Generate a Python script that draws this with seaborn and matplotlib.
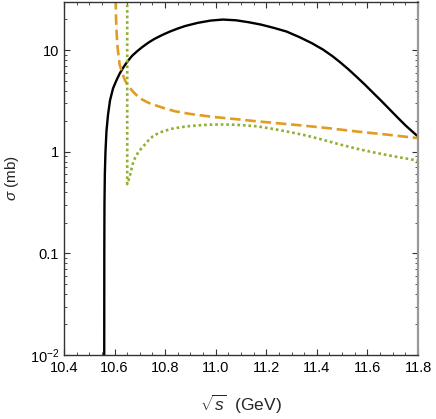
import numpy as np
import pandas as pd
import matplotlib
matplotlib.use("Agg")
import matplotlib.pyplot as plt
import matplotlib.ticker as mticker
import seaborn as sns

# --- data ---
x_black = [10.5590, 10.5591, 10.5594, 10.5600, 10.5615, 10.564, 10.568, 10.574, 10.582, 10.594,
           10.607, 10.620, 10.635, 10.650, 10.670, 10.690, 10.710, 10.735, 10.758, 10.790,
           10.819, 10.850, 10.88, 10.93, 10.98, 11.028, 11.08, 11.13, 11.18, 11.23,
           11.28, 11.333, 11.38, 11.424, 11.46, 11.49, 11.525, 11.558, 11.59, 11.62,
           11.655, 11.689, 11.72, 11.75, 11.775, 11.80]
y_black = [0.0005, 0.01, 0.1, 0.3, 0.6, 1.0, 1.6, 2.3, 3.2, 4.2,
           5.01, 5.86, 6.76, 7.67, 8.81, 9.77, 10.72, 11.89, 12.88, 14.13,
           15.21, 16.29, 17.26, 18.54, 19.5, 19.95, 19.63, 18.79, 17.78, 16.52,
           15.21, 13.34, 11.69, 10.12, 8.77, 7.66, 6.46, 5.43, 4.57, 3.85,
           3.16, 2.59, 2.16, 1.82, 1.60, 1.41]

x_orange = [10.6040, 10.6060, 10.6090, 10.6130, 10.620, 10.628, 10.640, 10.650, 10.660, 10.675,
            10.692, 10.71, 10.735, 10.758, 10.80, 10.839, 10.90, 10.989, 11.08, 11.163,
            11.25, 11.333, 11.45, 11.558, 11.68, 11.80]
y_orange = [35, 20, 13.5, 10.0, 7.2, 6.2, 5.1, 4.6, 4.25, 3.85,
            3.5, 3.25, 3.02, 2.88, 2.66, 2.50, 2.35, 2.20, 2.09, 1.99,
            1.90, 1.82, 1.70, 1.58, 1.47, 1.36]

x_green = [10.650, 10.650, 10.655, 10.660, 10.666, 10.673, 10.682, 10.692, 10.705, 10.719,
           10.735, 10.752, 10.775, 10.80, 10.826, 10.86, 10.90, 10.95, 10.989, 11.04,
           11.08, 11.12, 11.163, 11.23, 11.293, 11.36, 11.424, 11.49, 11.558, 11.62,
           11.689, 11.75, 11.80]
y_green = [60, 0.48, 0.52, 0.57, 0.66, 0.775, 0.88, 0.97, 1.07, 1.17,
           1.30, 1.42, 1.53, 1.61, 1.68, 1.74, 1.79, 1.83, 1.85, 1.85,
           1.84, 1.81, 1.78, 1.67, 1.56, 1.44, 1.31, 1.18, 1.07, 0.99,
           0.915, 0.86, 0.815]

x_ticks = [10.4, 10.6, 10.8, 11.0, 11.2, 11.4, 11.6, 11.8]
x_ticklabels = ["10.4", "10.6", "10.8", "11.0", "11.2", "11.4", "11.6", "11.8"]
y_ticks = [0.01, 0.1, 1, 10]
y_ticklabels = [r"$10^{-2}$", "0.1", "1", "10"]

sns.set_style("ticks")
plt.rcParams["font.family"] = ["Liberation Sans", "DejaVu Sans"]
plt.rcParams["mathtext.fontset"] = "custom"
plt.rcParams["mathtext.rm"] = "Liberation Sans"
plt.rcParams["mathtext.it"] = "Liberation Sans:italic"
plt.rcParams["mathtext.bf"] = "Liberation Sans:bold"

fig = plt.figure(figsize=(4.36, 4.19), dpi=100)
ax = fig.add_axes([64/436, 64/419, (418-64)/436, (355-2)/419])

df_b = pd.DataFrame({"x": x_black, "y": y_black})
df_o = pd.DataFrame({"x": x_orange, "y": y_orange})
df_g = pd.DataFrame({"x": x_green, "y": y_green})

sns.lineplot(data=df_b, x="x", y="y", ax=ax, sort=False, color="black", lw=1.7, estimator=None)
sns.lineplot(data=df_o, x="x", y="y", ax=ax, sort=False, color="#E19C24", lw=1.9,
             estimator=None, dashes=False, linestyle=(0, (4, 1.8)))
sns.lineplot(data=df_g, x="x", y="y", ax=ax, sort=False, color="#8FB032", lw=1.9,
             estimator=None, dashes=False, linestyle=(0, (1, 1.1)))

ax.set_yscale("log")
ax.set_xlim(10.4, 11.8)
ax.set_ylim(0.01, 29.7)

ax.set_xticks(x_ticks)
ax.set_xticklabels(x_ticklabels)
ax.xaxis.set_minor_locator(mticker.MultipleLocator(0.05))
ax.set_yticks(y_ticks)
ax.set_yticklabels(y_ticklabels)
ax.yaxis.set_minor_locator(mticker.LogLocator(base=10, subs=np.arange(2, 10)))
ax.yaxis.set_minor_formatter(mticker.NullFormatter())

ax.tick_params(which="both", direction="in", top=True, right=True, labelsize=10.5,
               colors="#333333", labelcolor="black")
ax.tick_params(which="major", length=4, width=0.8)
ax.tick_params(which="minor", length=2.5, width=0.6)
ax.tick_params(axis="x", which="major", pad=4)

for side in ["left", "bottom", "top"]:
    ax.spines[side].set_color("#333333")
    ax.spines[side].set_linewidth(1.0)
ax.spines["right"].set_color("#999999")
ax.spines["right"].set_linewidth(1.6)

ax.set_xlabel(r"$\sqrt{s}$  (GeV)", fontsize=12.5, labelpad=13)
ax.set_ylabel(r"$\sigma$ (mb)", fontsize=11, labelpad=6)

fig.savefig("out.png", dpi=100)
